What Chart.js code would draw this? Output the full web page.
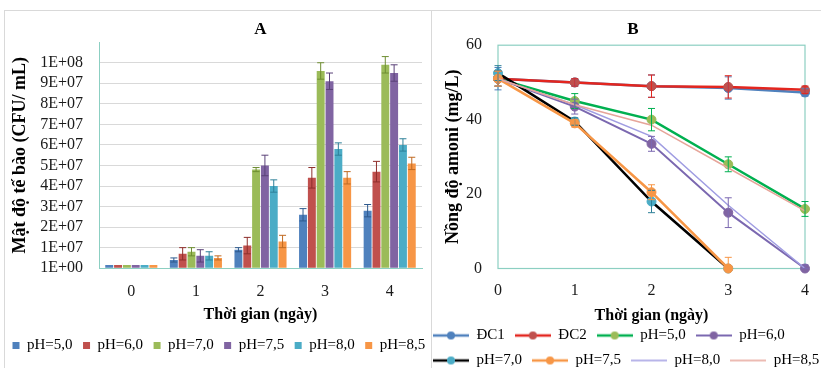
<!DOCTYPE html>
<html><head><meta charset="utf-8">
<script src="https://cdn.jsdelivr.net/npm/chart.js@4.4.1/dist/chart.umd.min.js"></script>
<style>
html,body{margin:0;padding:0;background:#fff;}
body{width:821px;height:368px;overflow:hidden;position:relative;}
#frameA{position:absolute;left:4px;top:10px;width:426px;height:400px;border:1px solid #D9D9D9;}
#frameB{position:absolute;left:431px;top:10px;width:400px;height:400px;border-top:1px solid #D9D9D9;}
#cA{position:absolute;left:2px;top:11px;}
#cB{position:absolute;left:423px;top:11px;}
</style></head>
<body>
<div id="frameA"></div><div id="frameB"></div>
<canvas id="cA" width="448" height="352"></canvas>
<canvas id="cB" width="420" height="367"></canvas>
<script>
// ---------- Panel A data ----------
const daysA = ['0', '1', '2', '3', '4'];
const phNames = ['pH=5,0', 'pH=6,0', 'pH=7,0', 'pH=7,5', 'pH=8,0', 'pH=8,5'];
const cellsPH50 = [1.5e6, 4.0e6, 9.0e6, 2.6e7, 2.8e7];
const cellsPH60 = [1.5e6, 7.0e6, 1.1e7, 4.4e7, 4.7e7];
const cellsPH70 = [1.5e6, 8.0e6, 4.8e7, 9.6e7, 9.9e7];
const cellsPH75 = [1.5e6, 6.0e6, 5.0e7, 9.1e7, 9.5e7];
const cellsPH80 = [1.5e6, 6.0e6, 4.0e7, 5.8e7, 6.0e7];
const cellsPH85 = [1.5e6, 5.0e6, 1.3e7, 4.4e7, 5.1e7];
const errPH50 = [0, 1e6, 1e6, 3e6, 3e6];
const errPH60 = [0, 3e6, 4e6, 5e6, 5e6];
const errPH70 = [0, 2e6, 1e6, 4e6, 4e6];
const errPH75 = [0, 3e6, 5e6, 4e6, 4e6];
const errPH80 = [0, 2e6, 3e6, 3e6, 3e6];
const errPH85 = [0, 1e6, 3e6, 3e6, 3e6];
const yTicksA = ['1E+00', '1E+07', '2E+07', '3E+07', '4E+07', '5E+07', '6E+07', '7E+07', '8E+07', '9E+07', '1E+08', ''];

// ---------- Panel B data ----------
const daysB = ['0', '1', '2', '3', '4'];
const namesB = ['ĐC1', 'ĐC2', 'pH=5,0', 'pH=6,0', 'pH=7,0', 'pH=7,5', 'pH=8,0', 'pH=8,5'];
const amDC1 = [51, 50, 49, 48.5, 47.3];
const amDC2 = [51, 50, 49, 48.8, 48];
const amPH50 = [51, 45, 40, 28, 16];
const amPH60 = [51, 43.5, 33.5, 15, 0];
const amPH70 = [52.5, 39.5, 18, 0, null];
const amPH75 = [51, 39, 20.5, 0, null];
const amPH80 = [51, 44, 35.5, 17, 0];
const amPH85 = [51, 44, 38.5, 27, 15.5];
const errDC1 = [3, 1, 3, 3, 1];
const errDC2 = [2, 1, 3, 3, 1];
const errPH50B = [2, 2, 3, 2, 2];
const errPH60B = [2, 2, 2, 4, 1];
const errPH70B = [2, 1, 3, 0, 0];
const errPH75B = [2, 1, 2, 3, 0];
const yTicksB = ['0', '20', '40', '60'];

Chart.defaults.font.family = "'Liberation Serif', 'Times New Roman', serif";
Chart.defaults.color = '#1a1a1a';
Chart.defaults.animation = false;

const errorBars = {
  id: 'errorBars',
  afterDatasetsDraw(chart, args, opts) {
    const ctx = chart.ctx, y = chart.scales.y;
    chart.data.datasets.forEach((ds, di) => {
      if (!ds.errors) return;
      const meta = chart.getDatasetMeta(di);
      meta.data.forEach((el, i) => {
        const v = ds.data[i], e = ds.errors[i];
        if (v == null || !e) return;
        const x = el.x, yt = y.getPixelForValue(v + e), yb = y.getPixelForValue(Math.max(v - e, 0));
        const cap = opts.cap || 3.5;
        ctx.save();
        ctx.strokeStyle = ds.errorColor || '#333';
        ctx.lineWidth = 1;
        ctx.beginPath();
        ctx.moveTo(x, yt); ctx.lineTo(x, yb);
        ctx.moveTo(x - cap, yt); ctx.lineTo(x + cap, yt);
        ctx.moveTo(x - cap, yb); ctx.lineTo(x + cap, yb);
        ctx.stroke();
        ctx.restore();
      });
    });
  }
};

const frameB = {
  id: 'frameB',
  beforeDatasetsDraw(chart) {
    const {ctx, chartArea: a} = chart;
    ctx.save();
    ctx.strokeStyle = '#8CCFC2';
    ctx.lineWidth = 1.2;
    ctx.strokeRect(a.left, a.top, a.right - a.left, a.bottom - a.top);
    ctx.restore();
  }
};

// ---------- Chart A ----------
const colorsA = ['#4F81BD', '#C0504D', '#9BBB59', '#8064A2', '#4BACC6', '#F79646'];
const errColorsA = ['#2E5A8E', '#8E2E2B', '#6E8E32', '#5A4278', '#2E8099', '#C06A22'];
const valsA = [cellsPH50, cellsPH60, cellsPH70, cellsPH75, cellsPH80, cellsPH85];
const errsA = [errPH50, errPH60, errPH70, errPH75, errPH80, errPH85];

new Chart(document.getElementById('cA'), {
  type: 'bar',
  data: {
    labels: daysA,
    datasets: phNames.map((n, i) => ({
      label: n, data: valsA[i], errors: errsA[i],
      backgroundColor: colorsA[i], errorColor: errColorsA[i],
      borderWidth: 0, categoryPercentage: 0.82, barPercentage: 0.9
    }))
  },
  options: {
    responsive: false, devicePixelRatio: 1,
    layout: { padding: 0 },
    plugins: {
      errorBars: { cap: 3.5 },
      tooltip: { enabled: false },
      title: { display: true, text: 'A', fullSize: false, color: '#000',
        font: { size: 17, weight: 'bold' }, padding: { top: 8.8, bottom: 2 } },
      legend: { position: 'bottom', align: 'start',
        labels: { boxWidth: 7, boxHeight: 7, padding: 10.5, color: '#000', font: { size: 15 } } }
    },
    scales: {
      x: {
        grid: { display: false, drawTicks: false },
        border: { color: '#8CCFC2', width: 1 },
        ticks: { padding: 14.4, color: '#1a1a1a', font: { size: 16 } },
        title: { display: true, text: 'Thời gian (ngày)', color: '#000', font: { size: 16, weight: 'bold' }, padding: { top: -10.8, bottom: 2.9 } },
        afterFit: (s) => { s.paddingRight = 28; s.paddingLeft = 0; }
      },
      y: {
        min: 0, max: 1.1e8,
        ticks: { stepSize: 1e7, autoSkip: false, padding: 16, color: '#1a1a1a', font: { size: 16 },
          callback: (v) => yTicksA[Math.round(v / 1e7)] ?? '' },
        grid: { drawTicks: false, color: (c) => (c.tick && c.tick.value >= 1.1e8) ? 'rgba(0,0,0,0)' : '#D9D9D9' },
        border: { color: '#8CCFC2', width: 1 },
        title: { display: true, text: 'Mật độ tế bào (CFU/ mL)', color: '#000', font: { size: 18, weight: 'bold' }, padding: { top: 7.2 } },
        afterFit: (s) => { s.width = 97; }
      }
    }
  },
  plugins: [errorBars]
});

// ---------- Chart B ----------
const lineColorsB = ['#4F81BD', '#E3261F', '#00B050', '#7B68B0', '#000000', '#F79646', '#A09DE2', '#E6A59A'];
const markColorsB = ['#4F81BD', '#C0504D', '#9BBB59', '#8064A2', '#4BACC6', '#F79646', null, null];
const lineWidthsB = [2.5, 2.5, 2.5, 2, 2.5, 2.5, 1.5, 1.5];
const valsB = [amDC1, amDC2, amPH50, amPH60, amPH70, amPH75, amPH80, amPH85];
const errsB = [errDC1, errDC2, errPH50B, errPH60B, errPH70B, errPH75B, null, null];

function legendSwatch(i) {
  const c = document.createElement('canvas');
  c.width = 36; c.height = 10;
  const g = c.getContext('2d');
  g.strokeStyle = lineColorsB[i]; g.lineWidth = lineWidthsB[i];
  g.beginPath(); g.moveTo(0, 5); g.lineTo(36, 5); g.stroke();
  if (markColorsB[i]) {
    g.fillStyle = markColorsB[i];
    g.beginPath(); g.arc(18, 5, 4, 0, Math.PI * 2); g.fill();
  }
  return c;
}

new Chart(document.getElementById('cB'), {
  type: 'line',
  data: {
    labels: daysB,
    datasets: namesB.map((n, i) => ({
      label: n, data: valsB[i], errors: errsB[i],
      borderColor: lineColorsB[i], borderWidth: lineWidthsB[i],
      backgroundColor: markColorsB[i] || lineColorsB[i],
      errorColor: lineColorsB[i] === '#000000' ? '#2E8099' : lineColorsB[i],
      pointRadius: markColorsB[i] ? 4.5 : 0,
      pointBackgroundColor: markColorsB[i] || lineColorsB[i],
      pointBorderColor: markColorsB[i] || lineColorsB[i],
      pointBorderWidth: 1, tension: 0, clip: false, spanGaps: false,
      order: namesB.length - i
    }))
  },
  options: {
    responsive: false, devicePixelRatio: 1,
    layout: { padding: 0 },
    plugins: {
      errorBars: { cap: 3.5 },
      tooltip: { enabled: false },
      title: { display: true, text: 'B', color: '#000',
        font: { size: 17, weight: 'bold' }, padding: { top: 8.8, bottom: 5 } },
      legend: { position: 'bottom', align: 'start',
        labels: { usePointStyle: true, pointStyleWidth: 36, padding: 10, color: '#000', font: { size: 15 },
          generateLabels: (chart) => chart.data.datasets.map((ds, i) => ({
            text: ds.label, pointStyle: legendSwatch(i), fillStyle: lineColorsB[i],
            strokeStyle: lineColorsB[i], lineWidth: 0, hidden: false, datasetIndex: i, fontColor: '#000'
          })) } }
    },
    scales: {
      x: {
        offset: false,
        grid: { display: false, drawTicks: false },
        border: { display: false },
        ticks: { padding: 12.4, color: '#1a1a1a', font: { size: 16 } },
        title: { display: true, text: 'Thời gian (ngày)', color: '#000', font: { size: 16, weight: 'bold' }, padding: { top: -6.6, bottom: -7.1 } },
        afterFit: (s) => { s.paddingRight = 38; s.paddingLeft = 0; }
      },
      y: {
        min: 0, max: 60,
        ticks: { stepSize: 20, autoSkip: false, padding: 16, color: '#1a1a1a', font: { size: 16 },
          callback: (v) => yTicksB[Math.round(v / 20)] ?? '' },
        grid: { display: false, drawTicks: false },
        border: { display: false },
        title: { display: true, text: 'Nồng độ amoni (mg/L)', color: '#000', font: { size: 18, weight: 'bold' }, padding: { top: 19.2 } },
        afterFit: (s) => { s.width = 75; }
      }
    }
  },
  plugins: [frameB, errorBars]
});
</script>
</body></html>
